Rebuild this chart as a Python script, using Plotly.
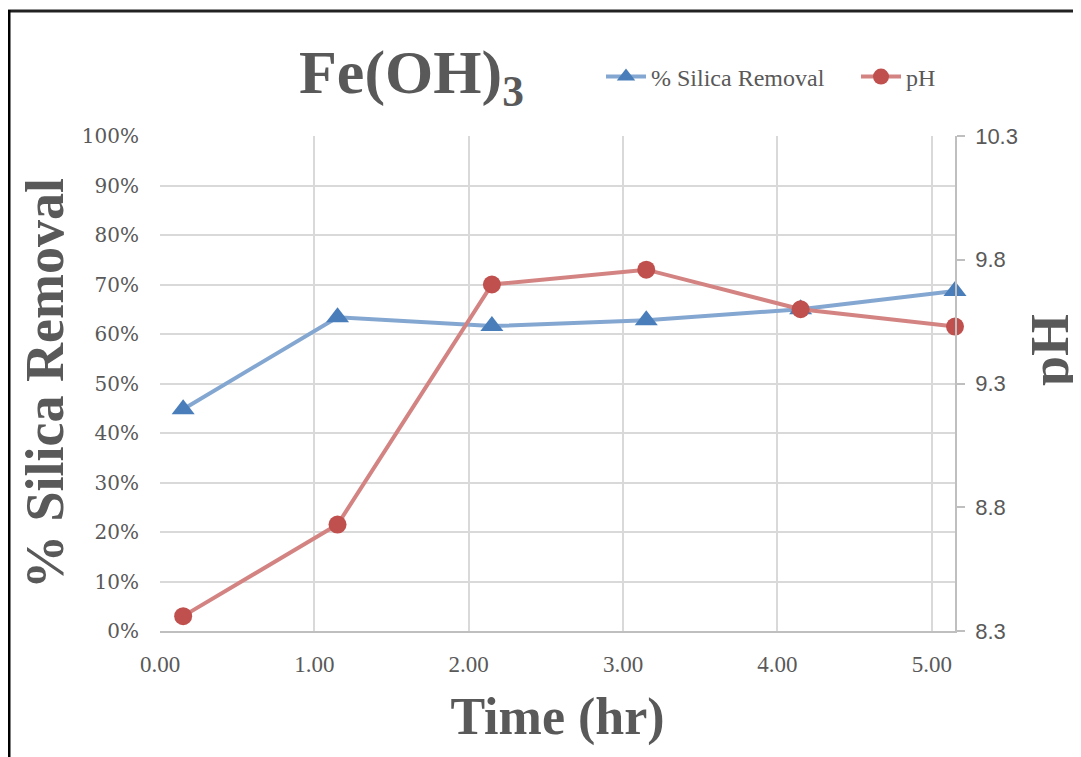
import plotly.graph_objects as go

time_hr = [0.15, 1.15, 2.15, 3.15, 4.15, 5.15]
silica_removal = [0.448, 0.634, 0.616, 0.628, 0.650, 0.687]
ph_values = [8.36, 8.73, 9.70, 9.76, 9.60, 9.53]
ph_ticks = [8.3, 8.8, 9.3, 9.8, 10.3]
x_ticks = [0, 1, 2, 3, 4, 5]

# page body has an 8px margin; work in reference-window pixels and convert
OFF = 8
W, H = 1081 - OFF, 757 - OFF
L, R, T, B = 160, 955, 136, 631  # plot area in window pixels

def px(x):
    return (x - L) / (R - L)

def py(y):
    return (B - y) / (B - T)

grey_text = "#595959"
serif = "Liberation Serif"

fig = go.Figure()
fig.add_trace(go.Scatter(
    x=time_hr, y=silica_removal, name="% Silica Removal", mode="lines+markers",
    line=dict(color="#84a7d1", width=4),
    marker=dict(symbol="triangle-up", size=20, color="#4a7ebb",
                line=dict(color="#4a7ebb", width=0)),
    cliponaxis=False, legend="legend",
))
fig.add_trace(go.Scatter(
    x=time_hr, y=ph_values, name="pH", mode="lines+markers", yaxis="y2",
    line=dict(color="#d38482", width=4),
    marker=dict(symbol="circle", size=18, color="#c0504d",
                line=dict(color="#c0504d", width=0)),
    cliponaxis=False, legend="legend2",
))

legend_common = dict(orientation="h", xanchor="left", yanchor="middle",
                     font=dict(family=serif, size=24, color=grey_text),
                     bgcolor="rgba(0,0,0,0)", itemwidth=40)

fig.update_layout(
    width=W, height=H,
    margin=dict(l=L - OFF, r=1081 - R, t=T - OFF, b=757 - B, pad=0),
    paper_bgcolor="white", plot_bgcolor="white",
    showlegend=True,
    legend=dict(x=px(601), y=py(77), **legend_common),
    legend2=dict(x=px(856), y=py(77), **legend_common),
    xaxis=dict(
        range=[0, 5.15], tickvals=x_ticks, tickformat=".2f",
        showgrid=True, gridcolor="#d9d9d9", gridwidth=1.5,
        showline=True, linecolor="#bfbfbf", linewidth=1.5,
        zeroline=False, ticks="", ticklabelstandoff=12,
        tickfont=dict(family=serif, size=23, color=grey_text),
        title=dict(text="<b>Time (hr)</b>", standoff=21,
                   font=dict(family=serif, size=52, color=grey_text)),
    ),
    yaxis=dict(
        range=[0, 1], dtick=0.1, tickformat=".0%",
        showgrid=True, gridcolor="#d9d9d9", gridwidth=1.5,
        showline=False, zeroline=False, ticks="", ticklabelstandoff=20,
        tickfont=dict(family="DejaVu Serif", size=20, color=grey_text),
        title=dict(text="<b>% Silica Removal</b>", standoff=0,
                   font=dict(family=serif, size=54, color=grey_text)),
    ),
    yaxis2=dict(
        range=[8.3, 10.3], tickvals=ph_ticks, tickformat=".1f",
        overlaying="y", side="right", showgrid=False, zeroline=False,
        showline=True, linecolor="#bfbfbf", linewidth=1.5,
        ticks="outside", ticklen=8, tickcolor="#bfbfbf", tickwidth=1.5,
        ticklabelstandoff=6,
        tickfont=dict(family="Liberation Sans", size=22, color=grey_text),
    ),
    annotations=[
        dict(text="<b>Fe(OH)<sub>3</sub></b>", x=px(411), y=py(76), xref="paper", yref="paper",
             xanchor="center", yanchor="middle", showarrow=False,
             font=dict(family=serif, size=62, color=grey_text)),
        dict(text="<b>pH</b>", x=px(1050), y=py(350), xref="paper", yref="paper",
             xanchor="center", yanchor="middle", showarrow=False, textangle=-90,
             font=dict(family=serif, size=54, color=grey_text)),
    ],
    shapes=[
        dict(type="line", xref="paper", yref="paper", x0=px(8), x1=px(1100), y0=py(11), y1=py(11),
             line=dict(color="#222222", width=3)),
        dict(type="line", xref="paper", yref="paper", x0=px(9), x1=px(9), y0=py(10), y1=py(780),
             line=dict(color="#000000", width=3)),
    ],
)

fig.write_html("out.html")
